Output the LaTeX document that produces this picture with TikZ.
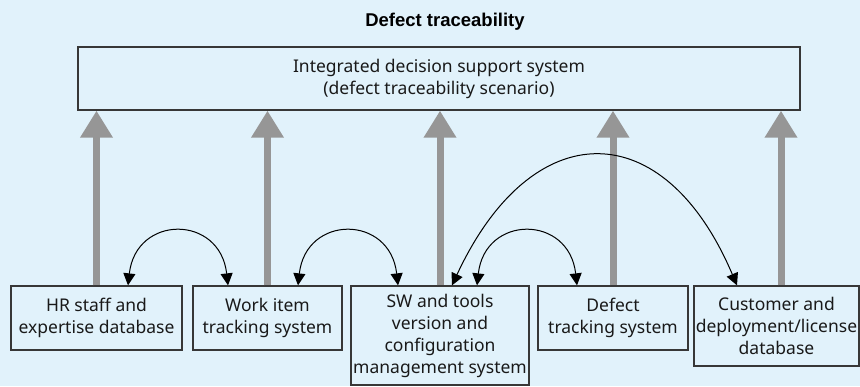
\documentclass[tikz,border=0pt]{standalone}
\usepackage{fontspec}
\setmainfont{Noto Sans}
\newfontfamily\titlefont{Liberation Sans}
\usetikzlibrary{arrows.meta}
\definecolor{bgc}{RGB}{225,242,251}
\definecolor{boxc}{RGB}{55,55,55}
\definecolor{grayc}{RGB}{150,150,150}
\definecolor{txtc}{RGB}{25,25,25}
\tikzset{
  box/.style={draw=boxc, line width=1.3pt, inner sep=0pt, align=center,
    text=txtc, font=\fontsize{17.5}{22}\selectfont},
  upflow/.style={draw=grayc, line width=7pt,
    -{Triangle[width=31pt,length=27pt,fill=grayc]}},
  link/.style={draw=black, line width=1pt,
    {Triangle[width=12pt,length=12pt]}-{Triangle[width=12pt,length=12pt]}}
}
\begin{document}
\begin{tikzpicture}[x=1pt,y=-1pt]
\fill[bgc] (0,0) rectangle (860,386);
\useasboundingbox (0,0) rectangle (860,386);

\node[font=\titlefont\bfseries\fontsize{18.5}{22}\selectfont, text=black] (title) at (445,21.5) {Defect traceability};

\node[box, minimum width=722pt, minimum height=63pt] (top) at (439,78.5)
  {Integrated decision support system\\(defect traceability scenario)};

\node[box, minimum width=171pt, minimum height=64pt] (hr) at (96.5,318)
  {HR staff and\\expertise database};
\node[box, minimum width=149pt, minimum height=64pt] (work) at (267.5,318)
  {Work item\\tracking system};
\node[box, minimum width=178pt, minimum height=99pt] (sw) at (440,335.5)
  {SW and tools\\version and\\configuration\\management system};
\node[box, minimum width=150pt, minimum height=64pt] (defect) at (613,318)
  {Defect\\tracking system};
\node[box, minimum width=165pt, minimum height=80pt] (cust) at (776.5,326)
  {Customer and\\deployment/license\\database};

\draw[upflow] (hr.north) -- (hr.north |- top.south);
\draw[upflow] (work.north) -- (work.north |- top.south);
\draw[upflow] (sw.north) -- (sw.north |- top.south);
\draw[upflow] (defect.north) -- (defect.north |- top.south);
\draw[upflow] ([xshift=4.5pt]cust.north) -- ([xshift=4.5pt]cust.north |- top.south);

\draw[link] ([xshift=31.5pt]hr.north) .. controls +(8,-71) and +(-8,-71) .. ([xshift=-39.5pt]work.north);
\draw[link] ([xshift=30.5pt]work.north) .. controls +(8,-71) and +(-8,-71) .. ([xshift=-42pt]sw.north);
\draw[link] ([xshift=37pt]sw.north) .. controls +(8,-71) and +(-8,-71) .. ([xshift=-36pt]defect.north);
\draw[link] ([xshift=12pt]sw.north) .. controls +(80,-172) and +(-73,-172) .. ([xshift=-39.5pt]cust.north);
\end{tikzpicture}
\end{document}
